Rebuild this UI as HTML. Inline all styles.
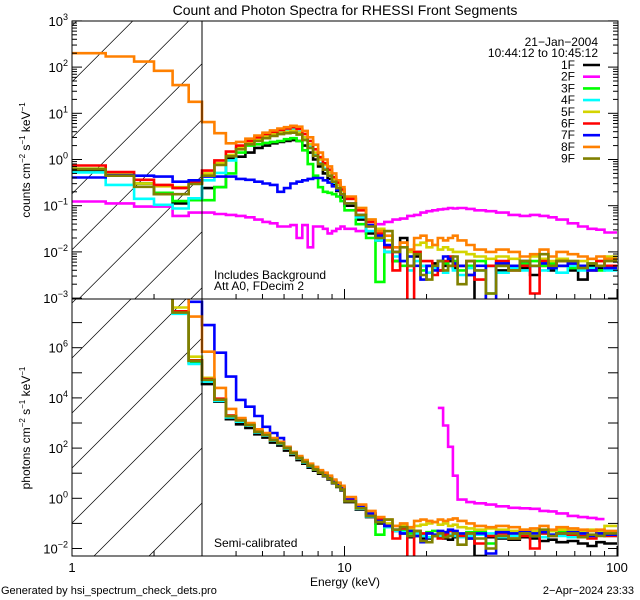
<!DOCTYPE html>
<html><head><meta charset="utf-8">
<style>
html,body{margin:0;padding:0;background:#fff;overflow:hidden;width:640px;height:600px;}
svg{display:block;font-family:"Liberation Sans",sans-serif;}
</style></head>
<body>
<svg id="chart" width="640" height="600" viewBox="0 0 640 600" xmlns="http://www.w3.org/2000/svg">
<defs>
<clipPath id="clipTop"><rect x="72" y="21" width="546" height="278"/></clipPath>
<clipPath id="clipBot"><rect x="72" y="299" width="546" height="257"/></clipPath>
</defs>
<rect width="640" height="600" fill="#fff"/>
<text x="345" y="15" font-size="14" text-anchor="middle">Count and Photon Spectra for RHESSI Front Segments</text>
<g id="hatch"></g>
<g id="series"></g>
<g id="axes"></g>
<line x1="202" y1="21" x2="202" y2="299" stroke="#000" stroke-width="1"/>
<line x1="202" y1="299" x2="202" y2="556" stroke="#000" stroke-width="1"/>
<rect x="72" y="21" width="546" height="278" fill="none" stroke="#000"/>
<rect x="72" y="299" width="546" height="257" fill="none" stroke="#000"/>
<text x="598" y="46" font-size="12" text-anchor="end">21−Jan−2004</text>
<text x="598" y="57" font-size="12" text-anchor="end">10:44:12 to 10:45:12</text>
<g id="legend"></g>
<text x="214" y="279" font-size="12">Includes Background</text>
<text x="214" y="290" font-size="12">Att A0, FDecim 2</text>
<text x="214" y="547" font-size="12">Semi-calibrated</text>
<text x="345" y="586" font-size="12" text-anchor="middle">Energy (keV)</text>
<text x="1" y="594" font-size="11">Generated by hsi_spectrum_check_dets.pro</text>
<text x="634" y="594" font-size="11" text-anchor="end">2−Apr−2024  23:33</text>
<text transform="translate(30,160) rotate(-90)" font-size="12" text-anchor="middle">counts cm<tspan dy="-5" font-size="8">−2</tspan><tspan dy="5"> s</tspan><tspan dy="-5" font-size="8">−1</tspan><tspan dy="5"> keV</tspan><tspan dy="-5" font-size="8">−1</tspan></text>
<text transform="translate(30,428) rotate(-90)" font-size="12" text-anchor="middle">photons cm<tspan dy="-5" font-size="8">−2</tspan><tspan dy="5"> s</tspan><tspan dy="-5" font-size="8">−1</tspan><tspan dy="5"> keV</tspan><tspan dy="-5" font-size="8">−1</tspan></text>
</svg>
<script>
const edges=[1,1.33,1.69,2.0,2.34,2.68,3.0,3.33,3.67,4,4.33,4.67,5,5.33,5.67,6,6.33,6.67,7,7.33,7.67,8,8.33,8.67,9,9.33,9.67,10,11,12,13,14,15,16,17,18,19,20,21,22,23,24,25,26,28,30,33,36,40,44,48,52,56,60,66,72,78,84,90,100];
const names=["1F","2F","3F","4F","5F","6F","7F","8F","9F"];
const colors=["#000000","#ff00ff","#00ff00","#00ffff","#d4d400","#ff0000","#0000ff","#ff8000","#808000"];
const c_black=[-0.23,-0.32,-0.52,-0.75,-0.95,-0.84,-0.62,-0.6,0.03,0.06,0.15,0.25,0.30,0.35,0.38,0.40,0.42,0.40,0.30,0.15,0.0,-0.15,-0.3,-0.42,-0.55,-0.68,-0.82,-1.0,-1.3,-1.6,-1.75,-2.0,-2.2,-1.7,-2.3,-2.1,-2.3,-2.3,-2.25,-2.4,-2.3,-2.2,-2.35,-2.3,-2.5,-3.2,-2.3,-2.4,-2.3,-2.35,-2.5,-2.3,-2.4,-2.3,-2.4,-2.6,-2.3,-2.35,-2.3];
const c_magenta=[-0.91,-0.95,-1.02,-1.02,-1.22,-1.15,-1.15,-1.18,-1.2,-1.22,-1.25,-1.3,-1.35,-1.38,-1.45,-1.45,-1.42,-1.7,-1.42,-1.9,-1.45,-1.45,-1.5,-1.6,-1.55,-1.5,-1.45,-1.5,-1.55,-1.45,-1.4,-1.35,-1.3,-1.28,-1.22,-1.2,-1.15,-1.12,-1.1,-1.08,-1.07,-1.05,-1.06,-1.05,-1.07,-1.1,-1.12,-1.15,-1.2,-1.22,-1.2,-1.22,-1.25,-1.3,-1.38,-1.45,-1.5,-1.52,-1.58];
const c_green=[-0.2,-0.35,-0.52,-0.72,-0.9,-0.88,-0.88,-0.6,-0.3,0.15,0.3,0.33,0.36,0.38,0.40,0.44,0.46,0.40,0.2,-0.1,-0.35,-0.6,-0.7,-0.72,-0.75,-0.8,-0.9,-1.1,-1.4,-1.7,-2.65,-1.9,-2.2,-2.3,-2.1,-2.0,-2.4,-2.3,-2.35,-2.2,-2.25,-2.3,-2.2,-2.4,-2.3,-2.2,-2.9,-2.3,-2.3,-2.25,-2.2,-2.3,-2.25,-2.3,-2.35,-2.3,-2.25,-2.4,-2.3];
const c_cyan=[-0.28,-0.55,-0.85,-0.98,-1.06,-0.84,-0.45,-0.29,-0.02,0.25,0.36,0.45,0.52,0.57,0.61,0.64,0.66,0.60,0.45,0.28,0.1,-0.08,-0.2,-0.35,-0.5,-0.62,-0.75,-0.95,-1.25,-1.55,-1.75,-2.0,-2.1,-2.2,-2.4,-2.2,-2.3,-2.45,-2.35,-2.4,-2.45,-2.3,-2.4,-2.5,-2.35,-2.4,-2.3,-2.45,-2.35,-2.4,-2.3,-2.4,-2.35,-2.45,-2.3,-2.4,-2.35,-2.3,-2.4];
const c_yellow=[-0.2,-0.32,-0.52,-0.58,-0.6,-0.52,-0.3,-0.08,0.10,0.25,0.35,0.43,0.50,0.55,0.58,0.60,0.62,0.58,0.48,0.33,0.15,0.0,-0.12,-0.28,-0.42,-0.55,-0.68,-0.85,-1.05,-1.3,-1.5,-1.75,-1.9,-1.8,-2.0,-1.85,-1.8,-1.9,-1.85,-1.95,-1.9,-1.95,-2.0,-2.0,-2.05,-2.1,-2.15,-2.1,-2.15,-2.2,-2.1,-2.15,-2.2,-2.15,-2.2,-2.2,-2.15,-2.2,-2.1];
const c_red=[-0.13,-0.27,-0.44,-0.55,-0.62,-0.5,-0.24,-0.02,0.17,0.30,0.40,0.48,0.55,0.60,0.64,0.67,0.70,0.66,0.55,0.40,0.22,0.05,-0.08,-0.22,-0.38,-0.5,-0.65,-0.85,-1.1,-1.35,-1.6,-1.9,-2.4,-1.8,-3.1,-2.0,-2.2,-2.2,-2.5,-2.4,-2.2,-2.1,-2.3,-2.3,-2.2,-2.6,-2.3,-2.2,-2.4,-2.3,-2.9,-2.2,-2.3,-2.2,-2.25,-2.3,-2.4,-2.2,-2.3];
const c_blue=[-0.39,-0.34,-0.35,-0.37,-0.48,-0.45,-0.37,-0.37,-0.37,-0.42,-0.44,-0.48,-0.52,-0.55,-0.7,-0.62,-0.52,-0.48,-0.45,-0.42,-0.4,-0.4,-0.45,-0.5,-0.58,-0.66,-0.76,-0.95,-1.2,-1.42,-1.65,-1.85,-2.0,-2.2,-2.1,-2.3,-2.6,-2.3,-2.4,-2.2,-2.1,-2.15,-2.25,-2.3,-2.5,-2.3,-3.1,-2.25,-2.3,-2.2,-2.3,-2.25,-2.35,-2.3,-2.25,-2.3,-2.4,-2.3,-2.35];
const c_orange=[2.3,2.23,2.12,1.92,1.61,1.25,0.81,0.57,0.35,0.38,0.45,0.52,0.58,0.63,0.67,0.70,0.73,0.71,0.62,0.48,0.32,0.15,0.0,-0.15,-0.3,-0.45,-0.6,-0.8,-1.05,-1.3,-1.55,-1.65,-1.9,-1.8,-1.95,-1.7,-1.65,-1.75,-1.85,-1.7,-1.75,-1.7,-1.65,-1.75,-1.85,-1.95,-2.0,-1.95,-2.0,-2.1,-2.05,-1.95,-2.1,-2.0,-2.05,-2.1,-2.15,-2.1,-2.15];
const c_olive=[-0.21,-0.35,-0.59,-0.75,-0.75,-0.53,-0.35,-0.12,0.07,0.22,0.33,0.40,0.46,0.51,0.55,0.57,0.58,0.54,0.42,0.25,0.08,-0.1,-0.22,-0.35,-0.48,-0.62,-0.75,-0.95,-1.2,-1.45,-1.7,-1.55,-2.0,-1.9,-2.3,-2.05,-2.5,-2.6,-2.3,-2.2,-2.4,-2.3,-2.1,-2.7,-2.2,-2.4,-2.9,-2.3,-2.4,-2.2,-2.3,-2.05,-2.3,-2.2,-2.2,-2.35,-2.25,-2.3,-2.2];
const p_black=[9,9,9,9,7.4,5.4,4.55,3.85,3.15,2.95,2.8,2.55,2.42,2.22,2.1,1.9,1.72,1.52,1.38,1.22,1.1,0.98,0.88,0.75,0.6,0.45,0.32,-0.15,-0.45,-0.75,-1.0,-1.15,-1.3,-1.4,-1.55,-1.5,-1.6,-1.6,-1.5,-1.55,-1.6,-1.65,-1.55,-1.5,-1.6,-2.3,-1.55,-1.6,-1.65,-1.55,-1.6,-1.7,-1.65,-1.75,-1.7,-1.8,-1.9,-1.75,-1.8];
const p_magenta=[null,null,null,null,null,null,null,null,null,null,null,null,null,null,null,null,null,null,null,null,null,null,null,null,null,null,null,null,null,null,null,null,null,null,null,null,null,null,null,3.6,2.9,2.05,0.9,-0.05,-0.15,-0.2,-0.25,-0.32,-0.38,-0.4,-0.42,-0.5,-0.52,-0.6,-0.7,-0.75,-0.78,-0.83];
const p_green=[9,9,9,9,7.4,5.45,4.7,3.92,3.25,3.1,2.92,2.65,2.52,2.32,2.19,2.0,1.8,1.6,1.45,1.3,1.15,1.02,0.92,0.8,0.65,0.5,0.38,-0.1,-0.4,-0.7,-1.45,-1.05,-1.25,-1.3,-1.4,-1.35,-1.45,-1.35,-1.3,-1.4,-1.35,-1.3,-1.4,-1.45,-1.35,-1.3,-1.8,-1.35,-1.4,-1.3,-1.35,-1.4,-1.3,-1.35,-1.4,-1.35,-1.3,-1.45,-1.4];
const p_cyan=[9,9,9,9,7.35,5.35,4.65,3.88,3.22,3.05,2.9,2.62,2.5,2.3,2.17,1.98,1.78,1.58,1.43,1.28,1.15,1.02,0.9,0.78,0.62,0.48,0.35,-0.1,-0.42,-0.72,-0.95,-1.15,-1.3,-1.35,-1.5,-1.4,-1.5,-1.55,-1.45,-1.5,-1.55,-1.45,-1.5,-1.55,-1.5,-1.45,-1.4,-1.55,-1.5,-1.45,-1.5,-1.55,-1.45,-1.5,-1.55,-1.45,-1.5,-1.4,-1.5];
const p_yellow=[9,9,9,9,7.6,5.64,4.8,3.95,3.3,3.12,2.95,2.68,2.55,2.35,2.22,2.02,1.82,1.63,1.48,1.33,1.2,1.08,0.98,0.85,0.72,0.58,0.45,0.0,-0.3,-0.6,-0.85,-1.0,-1.1,-1.05,-1.2,-1.1,-1.05,-1.0,-0.95,-1.05,-1.0,-1.1,-1.05,-1.15,-1.2,-1.25,-1.2,-1.25,-1.3,-1.25,-1.3,-1.25,-1.3,-1.25,-1.3,-1.3,-1.25,-1.3,-1.1];
const p_red=[9,9,9,9,7.45,5.5,4.75,3.97,3.3,3.12,2.94,2.67,2.53,2.33,2.2,2.01,1.81,1.61,1.46,1.31,1.18,1.05,0.95,0.82,0.68,0.53,0.4,-0.05,-0.35,-0.65,-0.85,-1.1,-1.6,-1.2,-2.4,-1.3,-1.4,-1.4,-1.5,-1.6,-1.45,-1.3,-1.4,-1.5,-1.4,-1.8,-1.5,-1.4,-1.6,-1.5,-2.0,-1.4,-1.5,-1.4,-1.45,-1.5,-1.6,-1.4,-1.5];
const p_blue=[9,9,9,9,9,7.83,6.9,5.8,4.85,3.92,3.65,3.28,2.85,2.6,2.4,2.05,1.82,1.62,1.48,1.32,1.2,1.08,0.98,0.85,0.72,0.58,0.45,0.0,-0.3,-0.6,-0.9,-1.1,-1.25,-1.4,-1.3,-1.5,-1.75,-1.4,-1.45,-1.3,-1.35,-1.25,-1.3,-1.4,-1.6,-1.4,-2.2,-1.35,-1.4,-1.3,-1.4,-1.35,-1.45,-1.4,-1.35,-1.4,-1.5,-1.4,-1.45];
const p_orange=[9,9,9,9,9,7.24,5.84,4.4,3.56,3.2,3.0,2.75,2.6,2.4,2.25,2.05,1.85,1.68,1.52,1.38,1.25,1.12,1.02,0.9,0.75,0.62,0.5,0.05,-0.25,-0.5,-0.75,-0.85,-1.1,-1.0,-1.15,-0.9,-0.85,-0.9,-0.95,-0.85,-0.9,-0.85,-0.8,-0.9,-1.0,-1.1,-1.15,-1.1,-1.15,-1.25,-1.2,-1.1,-1.25,-1.15,-1.2,-1.25,-1.3,-1.25,-1.3];
const p_olive=[9,9,9,9,7.4,5.48,4.72,3.93,3.27,3.1,2.92,2.65,2.52,2.32,2.19,2.0,1.8,1.6,1.45,1.3,1.15,1.02,0.9,0.78,0.62,0.48,0.35,-0.12,-0.4,-0.7,-0.95,-0.85,-1.25,-1.15,-1.5,-1.3,-1.7,-1.75,-1.5,-1.4,-1.55,-1.5,-1.4,-1.85,-1.4,-1.6,-2.0,-1.5,-1.6,-1.4,-1.5,-1.25,-1.5,-1.4,-1.4,-1.55,-1.45,-1.5,-1.4];
const topTicks=[-3,-2,-1,0,1,2,3];
const botTicks=[-2,0,2,4,6];
const xLabels=[1,10,100];

const countSeries=[c_black,c_magenta,c_green,c_cyan,c_yellow,c_red,c_blue,c_orange,c_olive];
const photonSeries=[p_black,p_magenta,p_green,p_cyan,p_yellow,p_red,p_blue,p_orange,p_olive];

const NS="http://www.w3.org/2000/svg";
const X0=72,X1=618,DEC=272.5;
function xs(e){return X0+DEC*Math.log10(e);}
function yTop(v){return 159.5-46.2*v;}
function yBot(v){return 498.3-25.1*v;}
function mk(tag,attrs,parent){const el=document.createElementNS(NS,tag);for(const k in attrs)el.setAttribute(k,attrs[k]);parent.appendChild(el);return el;}

// hatching, lines y = y0 - (x-72), clipped analytically to box
function hatchLines(g,y0base,step,top,bot){
  for(let k=-8;k<10;k++){
    const y0=y0base+step*k;
    // x range where top<=y<=bot and 72<=x<=202
    let xa=Math.max(72,72+(y0-bot)), xb=Math.min(202,72+(y0-top));
    if(xb-xa<0.5)continue;
    mk('line',{x1:xa,y1:y0-(xa-72),x2:xb,y2:y0-(xb-72),stroke:'#000','stroke-width':0.7},g);
  }
}
const hatch=document.getElementById('hatch');
const hTop=mk('g',{},hatch);


hatchLines(hTop,81.7,56,21,299);
const hBot=mk('g',{},hatch);


hatchLines(hBot,303,55,299,556);

const sg=document.getElementById('series');
function stepPath(vals,yf,lo,hi){
  let d='';let open=false;
  const n=Math.min(vals.length,edges.length-1);
  for(let i=0;i<n;i++){
    const v=vals[i];
    if(v===null||v===undefined){open=false;continue;}
    const y=Math.max(lo,Math.min(hi,yf(v))).toFixed(1);
    if(!open){d+='M'+xs(edges[i]).toFixed(1)+' '+y;open=true;}
    else d+='L'+xs(edges[i]).toFixed(1)+' '+y;
    d+='L'+xs(edges[i+1]).toFixed(1)+' '+y;
  }
  return d;
}
const gTop=mk('g',{'clip-path':'url(#clipTop)'},sg);
const gBot=mk('g',{'clip-path':'url(#clipBot)'},sg);
for(let s=0;s<9;s++){
  const p=mk('path',{d:stepPath(countSeries[s],yTop,18,302),fill:'none',stroke:colors[s],'stroke-width':2.6,'stroke-linejoin':'miter'},gTop);
  
  
  const q=mk('path',{d:stepPath(photonSeries[s],yBot,296,559),fill:'none',stroke:colors[s],'stroke-width':2.6,'stroke-linejoin':'miter'},gBot);
  
  
}

const ax=document.getElementById('axes');
for(let d=-3;d<=3;d++){
  const y=yTop(d);
  mk('line',{x1:X0,y1:y,x2:X0+10,y2:y,stroke:'#000'},ax);
  mk('line',{x1:X1,y1:y,x2:X1-10,y2:y,stroke:'#000'},ax);
  if(d<3){for(let m=2;m<=9;m++){const ym=yTop(d+Math.log10(m));
    mk('line',{x1:X0,y1:ym,x2:X0+5,y2:ym,stroke:'#000'},ax);
    mk('line',{x1:X1,y1:ym,x2:X1-5,y2:ym,stroke:'#000'},ax);}}
}
topTicks.forEach(d=>{const g=mk('text',{x:68,y:yTop(d)+5,'font-size':13,'text-anchor':'end'},ax);
  
  
  g.textContent='10';const ts=mk('tspan',{dy:-6,'font-size':9},g);ts.textContent=(d<0?'−'+(-d):String(d));});
for(let d=-2;d<=7;d++){const y=yBot(d);
  mk('line',{x1:X0,y1:y,x2:X0+10,y2:y,stroke:'#000'},ax);
  mk('line',{x1:X1,y1:y,x2:X1-10,y2:y,stroke:'#000'},ax);}
botTicks.forEach(d=>{const g=mk('text',{x:68,y:yBot(d)+5,'font-size':13,'text-anchor':'end'},ax);
  
  
  g.textContent='10';const ts=mk('tspan',{dy:-6,'font-size':9},g);ts.textContent=(d<0?'−'+(-d):String(d));});
[299,556].forEach(yb=>{
  for(let dec=0;dec<2;dec++){for(let m=1;m<=9;m++){const e=m*Math.pow(10,dec);const x=xs(e);
    const len=(m===1)?10:5;mk('line',{x1:x,y1:yb,x2:x,y2:yb-len,stroke:'#000'},ax);}}
  mk('line',{x1:xs(100),y1:yb,x2:xs(100),y2:yb-10,stroke:'#000'},ax);
});
xLabels.forEach(v=>{const t=mk('text',{x:xs(v),y:572,'font-size':13,'text-anchor':'middle'},ax);
  
  
  t.textContent=String(v);});

const lg=document.getElementById('legend');
for(let s=0;s<9;s++){
  const y=69+11.7*s;
  const t=mk('text',{x:575,y:y,'font-size':12,'text-anchor':'end'},lg);
  
  
  t.textContent=names[s];
  const l=mk('line',{x1:583,y1:y-4,x2:600,y2:y-4,stroke:colors[s],'stroke-width':2.6},lg);
  
  
}
</script>
</body></html>
